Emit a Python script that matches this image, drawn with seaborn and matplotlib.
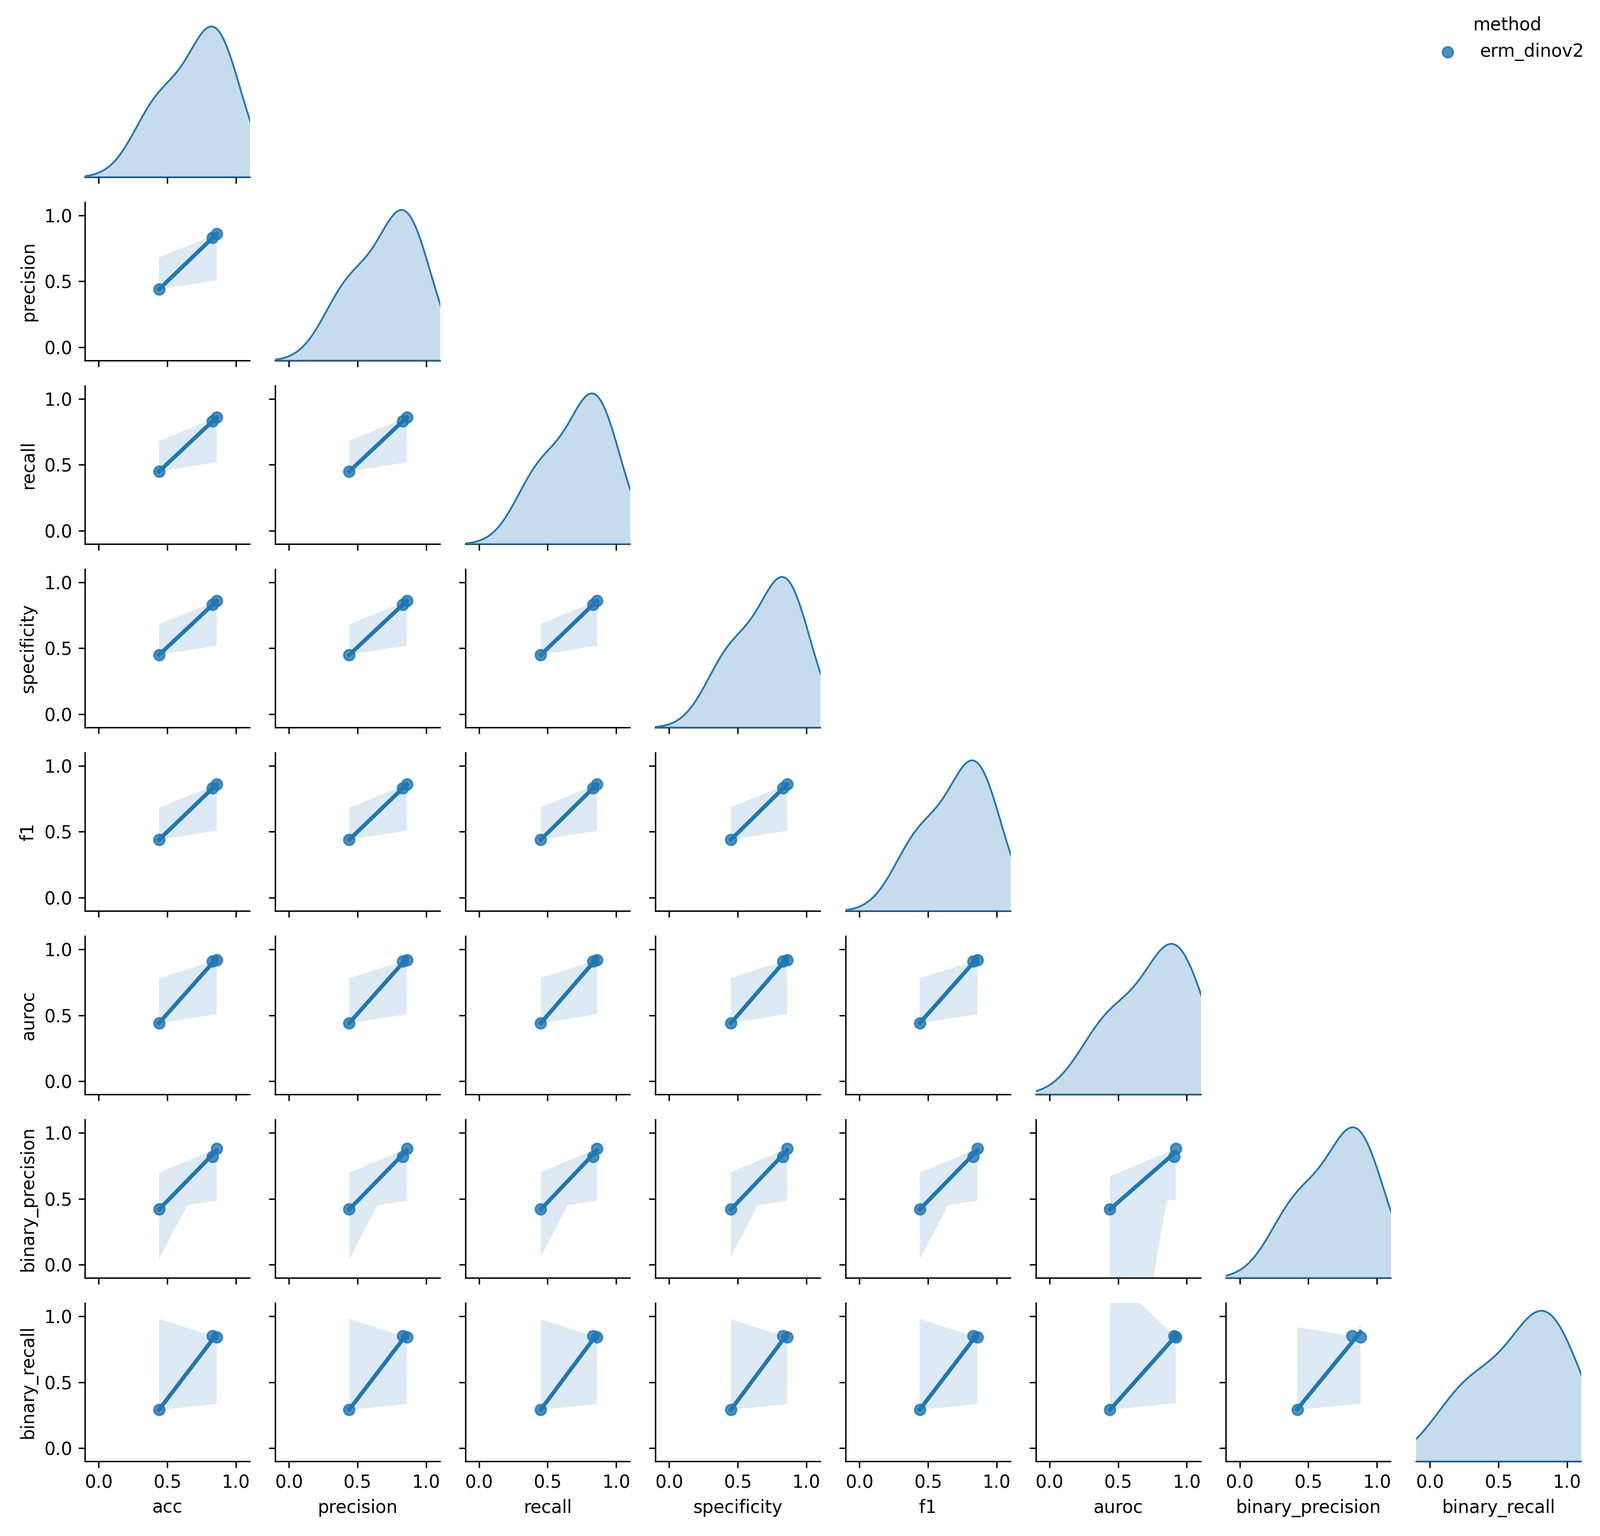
import pandas as pd
import numpy as np
import matplotlib
matplotlib.use("Agg")
import matplotlib.pyplot as plt
import seaborn as sns

# metric values (3 runs, one method)
method = ["erm_dinov2", "erm_dinov2", "erm_dinov2"]
acc = [0.44, 0.83, 0.86]
precision = [0.44, 0.83, 0.86]
recall = [0.45, 0.83, 0.86]
specificity = [0.45, 0.83, 0.86]
f1 = [0.44, 0.83, 0.86]
auroc = [0.44, 0.91, 0.92]
binary_precision = [0.42, 0.82, 0.88]
binary_recall = [0.29, 0.85, 0.84]

df = pd.DataFrame({
    "acc": acc,
    "precision": precision,
    "recall": recall,
    "specificity": specificity,
    "f1": f1,
    "auroc": auroc,
    "binary_precision": binary_precision,
    "binary_recall": binary_recall,
    "method": method,
})

np.random.seed(0)

g = sns.pairplot(df, hue="method", kind="reg", diag_kind="kde", corner=True,
                 height=1.5, plot_kws={"seed": 0})
sns.move_legend(g, "upper right")

# fixed limits on every panel
for i, row in enumerate(g.axes):
    for j, ax in enumerate(row):
        if ax is None:
            continue
        ax.set_xlim(-0.1, 1.1)
        if i != j:
            ax.set_ylim(-0.1, 1.1)

# final canvas 12.5 x 12 in -> 3750 x 3600 px
g.figure.set_size_inches(12.5, 12)
g.figure.subplots_adjust(left=0.0531, right=0.988, bottom=0.0486, top=0.9878,
                         wspace=0.155, hspace=0.159)

g.figure.savefig("out.png", dpi=300)
